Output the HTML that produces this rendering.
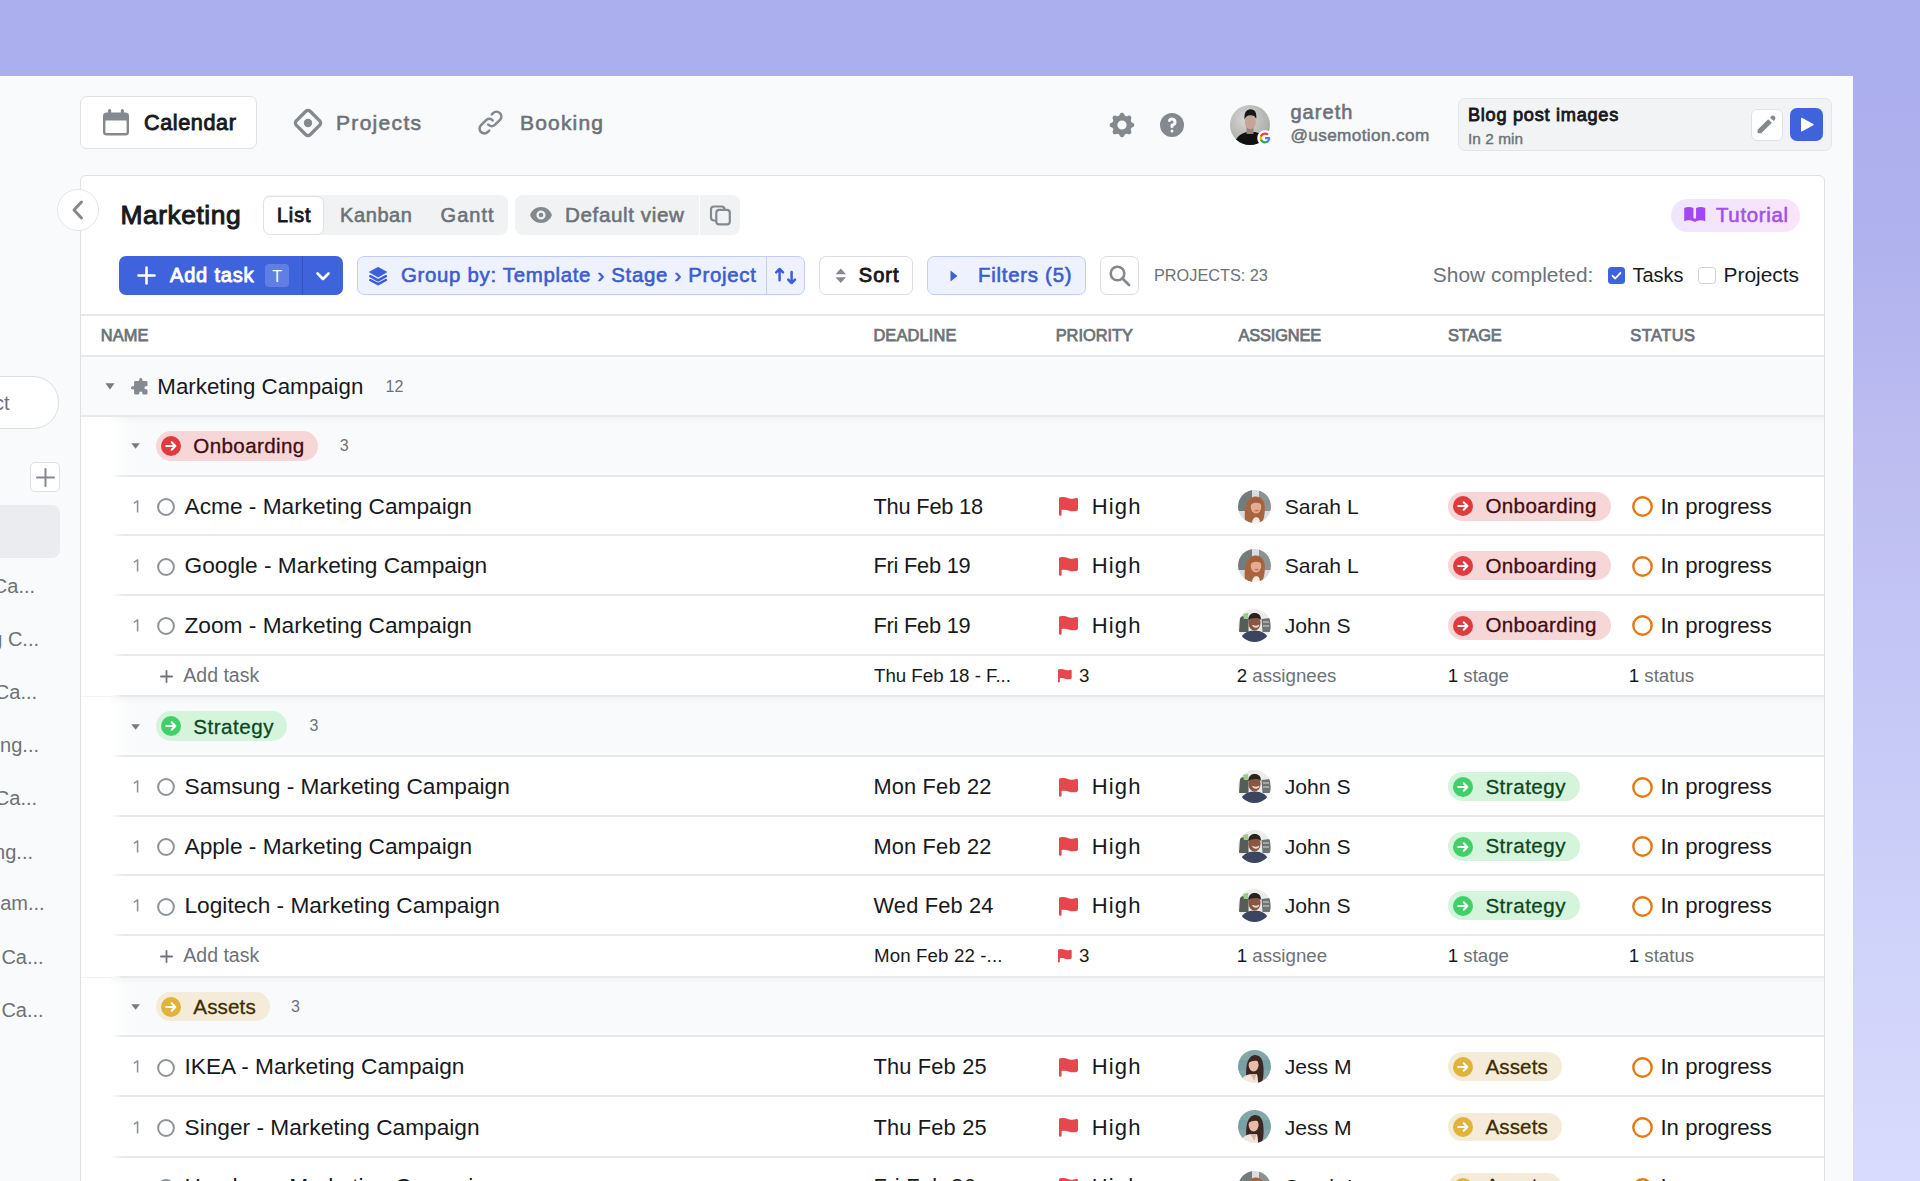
<!DOCTYPE html>
<html><head><meta charset="utf-8"><style>
*{margin:0;padding:0;box-sizing:border-box}
html,body{width:1920px;height:1181px;overflow:hidden}
body{position:relative;font-family:"Liberation Sans",sans-serif;background:linear-gradient(180deg,#AAAEEC 0px,#B0B2EE 250px,#BDBDF1 450px,#C2C4F4 600px,#C9CCF7 800px,#D2D5FA 1000px,#D8DBFC 1181px)}
.a{position:absolute}
.t{position:absolute;white-space:nowrap;line-height:1}
svg{overflow:visible}
</style></head><body>
<div class="a" style="left:0px;top:76px;width:1853px;height:1120px;background:#F9FAFC"></div>
<div class="a" style="left:-120px;top:376px;width:179px;height:52.6px;background:#fff;border:1px solid #DCDEE2;border-radius:26px"></div>
<div class="t" style="left:-17.20px;top:393.00px;font-size:20px;color:#6D7278;">ect</div>
<div class="a" style="left:30px;top:462px;width:29.5px;height:29.5px;background:#fff;border:1px solid #DFE1E5;border-radius:5px"></div>
<svg class="a" style="left:35.5px;top:467.5px;" width="19" height="19" viewBox="0 0 19 19"><path d="M9.5 1v17M1 9.5h17" stroke="#84898F" stroke-width="2" stroke-linecap="round"/></svg>
<div class="a" style="left:-20px;top:505px;width:79.6px;height:53.3px;background:#EBECEF;border-radius:8px"></div>
<div class="t" style="left:-7.20px;top:576.00px;font-size:20px;color:#6D7278;">Ca...</div>
<div class="t" style="left:-8.80px;top:629.00px;font-size:20px;color:#6D7278;">g C...</div>
<div class="t" style="left:-5.20px;top:682.00px;font-size:20px;color:#6D7278;">Ca...</div>
<div class="t" style="left:0.10px;top:735.00px;font-size:20px;color:#6D7278;">ng...</div>
<div class="t" style="left:-5.20px;top:788.00px;font-size:20px;color:#6D7278;">Ca...</div>
<div class="t" style="left:-5.90px;top:841.50px;font-size:20px;color:#6D7278;">ng...</div>
<div class="t" style="left:0.20px;top:893.30px;font-size:20px;color:#6D7278;">am...</div>
<div class="t" style="left:1.40px;top:947.00px;font-size:20px;color:#6D7278;">Ca...</div>
<div class="t" style="left:1.40px;top:1000.00px;font-size:20px;color:#6D7278;">Ca...</div>
<div class="a" style="left:80px;top:96px;width:177px;height:53px;background:#fff;border:1px solid #DFE1E5;border-radius:7px"></div>
<svg class="a" style="left:103px;top:109px;" width="26" height="26" viewBox="0 0 26 26"><rect x="0" y="3.5" width="26" height="23" rx="3.5" fill="#84898F"/><rect x="2.4" y="11.6" width="21.2" height="12.4" rx="1" fill="#fff"/><rect x="5" y="0" width="3.2" height="6" rx="1.6" fill="#84898F"/><rect x="17.8" y="0" width="3.2" height="6" rx="1.6" fill="#84898F"/></svg>
<div class="t" style="left:144.00px;top:112.00px;font-size:21.6px;color:#17191C;letter-spacing:0.615px;-webkit-text-stroke:0.9px #17191C;">Calendar</div>
<svg class="a" style="left:292.5px;top:107.5px;" width="30" height="30" viewBox="0 0 30 30"><rect x="5.2" y="5.2" width="19.6" height="19.6" rx="3" transform="rotate(45 15 15)" fill="none" stroke="#84898F" stroke-width="3.3"/><circle cx="15" cy="15" r="4.2" fill="#84898F"/></svg>
<div class="t" style="left:336.00px;top:112.00px;font-size:21px;color:#6D7278;letter-spacing:1.313px;-webkit-text-stroke:0.6px #6D7278;">Projects</div>
<svg class="a" style="left:476px;top:108px;" width="29" height="29" viewBox="0 0 24 24"><path d="M13.828 10.172a4 4 0 00-5.656 0l-4 4a4 4 0 105.656 5.656l1.102-1.101m-.758-4.899a4 4 0 005.656 0l4-4a4 4 0 00-5.656-5.656l-1.1 1.1" fill="none" stroke="#84898F" stroke-width="2.1" stroke-linecap="round" stroke-linejoin="round"/></svg>
<div class="t" style="left:520.00px;top:112.00px;font-size:21px;color:#6D7278;letter-spacing:1.181px;-webkit-text-stroke:0.6px #6D7278;">Booking</div>
<svg class="a" style="left:1110px;top:113px;" width="24" height="24" viewBox="2.2 2.2 15.6 15.6"><path fill-rule="evenodd" fill="#84898F" d="M11.49 3.17c-.38-1.56-2.6-1.56-2.98 0a1.532 1.532 0 01-2.286.948c-1.372-.836-2.942.734-2.106 2.106.54.886.061 2.042-.947 2.287-1.561.379-1.561 2.6 0 2.978a1.532 1.532 0 01.947 2.287c-.836 1.372.734 2.942 2.106 2.106a1.532 1.532 0 012.287.947c.379 1.561 2.6 1.561 2.978 0a1.533 1.533 0 012.287-.947c1.372.836 2.942-.734 2.106-2.106a1.533 1.533 0 01.947-2.287c1.561-.379 1.561-2.6 0-2.978a1.532 1.532 0 01-.947-2.287c.836-1.372-.734-2.942-2.106-2.106a1.532 1.532 0 01-2.287-.947zM10 13a3 3 0 100-6 3 3 0 000 6z"/></svg>
<svg class="a" style="left:1160px;top:113px;" width="24" height="24" viewBox="2 2 16 16"><path fill-rule="evenodd" fill="#84898F" d="M18 10a8 8 0 11-16 0 8 8 0 0116 0zm-8-3a1 1 0 00-.867.5 1 1 0 11-1.731-1A3 3 0 0113 8a3.001 3.001 0 01-2 2.83V11a1 1 0 11-2 0v-1a1 1 0 011-1 1 1 0 100-2zm0 8a1 1 0 100-2 1 1 0 000 2z"/></svg>
<svg class="a" style="left:1230px;top:105px;" width="40" height="40" viewBox="0 0 40 40"><defs><clipPath id="cg"><circle cx="20" cy="20" r="20"/></clipPath><radialGradient id="gbg" cx="0.4" cy="0.35" r="0.8"><stop offset="0" stop-color="#D9D9D7"/><stop offset="1" stop-color="#9E9E9C"/></radialGradient></defs>
<g clip-path="url(#cg)"><rect width="40" height="40" fill="url(#gbg)"/>
<path d="M4 40 C6 31 12 28 17 27 L25 27 C30 28 35 31 37 40 Z" fill="#101010"/>
<rect x="16.5" y="22" width="7" height="7" fill="#9C8477"/>
<ellipse cx="20.3" cy="16.8" rx="5.5" ry="7.4" fill="#C4A597"/>
<path d="M14.6 14.5 C13.8 7.5 16.5 4.2 20.5 4.2 C25 4.4 27 7.5 26.2 14 C25 10.5 22 10.2 20 10.2 C17.5 10.2 16 11.2 14.6 14.5Z" fill="#181818"/></g></svg>
<svg class="a" style="left:1256.5px;top:130px;" width="16" height="16" viewBox="0 0 16 16"><circle cx="8" cy="8" r="7.8" fill="#fff"/>
<path d="M13.2 8.1c0-.4 0-.8-.1-1.2H8v2.3h2.9c-.1.7-.5 1.3-1.1 1.7v1.4h1.8c1-1 1.6-2.4 1.6-4.2z" fill="#4285F4"/>
<path d="M8 13.4c1.5 0 2.7-.5 3.6-1.3l-1.8-1.4c-.5.3-1.1.5-1.8.5-1.4 0-2.6-1-3-2.2H3.1v1.4C4 12.200 5.900 13.4 8 13.4z" fill="#34A853"/>
<path d="M5 9c-.1-.3-.2-.7-.2-1s.1-.7.2-1V5.6H3.1C2.8 6.3 2.6 7.1 2.6 8s.2 1.700.5 2.4L5 9z" fill="#FBBC05"/>
<path d="M8 4.7c.8 0 1.5.3 2.100.8l1.5-1.5C10.700 3.200 9.500 2.600 8 2.600 5.900 2.600 4 3.800 3.100 5.600L5 7c.4-1.300 1.600-2.300 3-2.300z" fill="#EA4335"/></svg>
<div class="t" style="left:1290.40px;top:101.80px;font-size:20px;color:#6D7278;letter-spacing:1.060px;-webkit-text-stroke:0.6px #6D7278;">gareth</div>
<div class="t" style="left:1290.40px;top:126.90px;font-size:17.2px;color:#6D7278;letter-spacing:0.379px;-webkit-text-stroke:0.5px #6D7278;">@usemotion.com</div>
<div class="a" style="left:1458px;top:98px;width:374px;height:53px;background:#F2F3F5;border:1px solid #E3E5E8;border-radius:7px"></div>
<div class="t" style="left:1468.00px;top:106.30px;font-size:18.2px;color:#17191C;letter-spacing:0.714px;-webkit-text-stroke:0.85px #17191C;">Blog post images</div>
<div class="t" style="left:1468.00px;top:131.00px;font-size:15.4px;color:#6D7278;letter-spacing:0.036px;-webkit-text-stroke:0.4px #6D7278;">In 2 min</div>
<div class="a" style="left:1750.5px;top:108.5px;width:32px;height:32px;background:#fff;border:1px solid #E0E2E6;border-radius:6px"></div>
<svg class="a" style="left:1757px;top:115px;" width="19" height="19" viewBox="2.5 2.5 15 15"><path fill="#84898F" d="M13.586 3.586a2 2 0 112.828 2.828l-.793.793-2.828-2.828.793-.793zM11.379 5.793L3 14.172V17h2.828l8.38-8.379-2.83-2.828z"/></svg>
<div class="a" style="left:1790px;top:108px;width:33px;height:33px;background:#3E63DD;border-radius:7px"></div>
<svg class="a" style="left:1799px;top:117px;" width="16" height="16" viewBox="0 0 16 16"><path d="M2 1.8 Q2 0.3 3.4 1 L14.2 6.9 Q15.4 7.6 14.2 8.3 L3.4 14.2 Q2 14.9 2 13.4Z" fill="#fff"/></svg>
<div class="a" style="left:80px;top:175px;width:1745px;height:1100px;background:#fff;border:1px solid #DEE0E4;border-radius:6px"></div>
<div class="a" style="left:57px;top:189px;width:42px;height:42px;background:#fff;border:1px solid #E3E5E8;border-radius:50%"></div>
<svg class="a" style="left:70px;top:200px;" width="16" height="20" viewBox="0 0 16 20"><path d="M11.5 2 L4 10 L11.5 18" fill="none" stroke="#84898F" stroke-width="3" stroke-linecap="round" stroke-linejoin="round"/></svg>
<div class="t" style="left:120.60px;top:202.40px;font-size:26.4px;color:#17191C;letter-spacing:0.513px;-webkit-text-stroke:1.0px #17191C;">Marketing</div>
<div class="a" style="left:263px;top:195px;width:245px;height:40px;background:#F1F2F4;border-radius:8px"></div>
<div class="a" style="left:263px;top:196px;width:61px;height:39px;background:#fff;border:1px solid #DFE1E5;border-radius:7px"></div>
<div class="t" style="left:277.00px;top:206.00px;font-size:19.6px;color:#17191C;letter-spacing:0.974px;-webkit-text-stroke:0.9px #17191C;">List</div>
<div class="t" style="left:340.00px;top:205.00px;font-size:20px;color:#6D7278;letter-spacing:0.600px;-webkit-text-stroke:0.6px #6D7278;">Kanban</div>
<div class="t" style="left:440.60px;top:205.00px;font-size:20px;color:#6D7278;letter-spacing:1.025px;-webkit-text-stroke:0.6px #6D7278;">Gantt</div>
<div class="a" style="left:515px;top:195px;width:225px;height:40px;background:#F1F2F4;border-radius:8px"></div>
<div class="a" style="left:698.5px;top:195px;width:1.5px;height:40px;background:#fff"></div>
<svg class="a" style="left:530px;top:207px;" width="22" height="16" viewBox="0.4 3 19.2 14"><path fill="#84898F" d="M10 12a2 2 0 100-4 2 2 0 000 4z"/><path fill="#84898F" fill-rule="evenodd" d="M.458 10C1.732 5.943 5.522 3 10 3s8.268 2.943 9.542 7c-1.274 4.057-5.064 7-9.542 7S1.732 14.057.458 10zM14 10a4 4 0 11-8 0 4 4 0 018 0z"/></svg>
<div class="t" style="left:565.00px;top:205.00px;font-size:20.6px;color:#6D7278;letter-spacing:0.612px;-webkit-text-stroke:0.6px #6D7278;">Default view</div>
<svg class="a" style="left:709px;top:205px;" width="22" height="21" viewBox="0 0 22 21"><rect x="2" y="1.5" width="13.5" height="14" rx="3" fill="none" stroke="#84898F" stroke-width="2.2"/><rect x="7.3" y="4.8" width="13.5" height="14.6" rx="3" fill="#F1F2F4" stroke="#84898F" stroke-width="2.2"/></svg>
<div class="a" style="left:1671px;top:199px;width:129px;height:33px;background:linear-gradient(90deg,#EFE6FC,#F9E4F8);border-radius:17px"></div>
<svg class="a" style="left:1683.5px;top:207px;" width="21.5" height="15" viewBox="2 4 16 11.4"><path fill="#A347F5" d="M9 4.804A7.968 7.968 0 005.5 4c-1.255 0-2.443.29-3.5.804v10A7.969 7.969 0 015.5 14c1.669 0 3.218.51 4.5 1.385A7.962 7.962 0 0114.5 14c1.255 0 2.443.29 3.5.804v-10A7.968 7.968 0 0014.5 4c-1.255 0-2.443.29-3.5.804V12a1 1 0 11-2 0V4.804z"/></svg>
<div class="t" style="left:1716.00px;top:205.00px;font-size:20.4px;color:#A251E6;letter-spacing:0.669px;-webkit-text-stroke:0.6px #A251E6;">Tutorial</div>
<div class="a" style="left:119px;top:255.6px;width:224px;height:39.8px;background:#3E63DD;border-radius:7px"></div>
<svg class="a" style="left:136.5px;top:265.5px;" width="19" height="19" viewBox="0 0 19 19"><path d="M9.5 1.5v16M1.5 9.5h16" stroke="#fff" stroke-width="2.6" stroke-linecap="round"/></svg>
<div class="t" style="left:170.00px;top:265.00px;font-size:20px;color:#fff;letter-spacing:0.814px;-webkit-text-stroke:0.9px #fff;">Add task</div>
<div class="a" style="left:265px;top:264px;width:24px;height:23px;background:rgba(255,255,255,0.18);border-radius:4px"></div>
<div class="t" style="left:272.30px;top:269.00px;font-size:16px;color:#fff;">T</div>
<div class="a" style="left:302px;top:256px;width:1.2px;height:39px;background:rgba(20,30,90,0.25)"></div>
<svg class="a" style="left:316px;top:272px;" width="14" height="9" viewBox="0 0 14 9"><path d="M1.5 1.5 L7 7 L12.5 1.5" fill="none" stroke="#fff" stroke-width="2.6" stroke-linecap="round" stroke-linejoin="round"/></svg>
<div class="a" style="left:357px;top:256px;width:448px;height:39px;background:#EEF2FE;border:1px solid #C3CEF6;border-radius:7px"></div>
<svg class="a" style="left:369px;top:266.5px;" width="18.2" height="18.5" viewBox="0 0 18.2 18.5"><path d="M9.1 0.2 L18 5.1 L9.1 10.2 L0.2 5.1Z" fill="#3B5EDB" stroke="#3B5EDB" stroke-width="0.6" stroke-linejoin="round"/><path d="M1.3 9.2 L9.1 13.4 L16.9 9.2" fill="none" stroke="#3B5EDB" stroke-width="2.5" stroke-linejoin="round" stroke-linecap="round"/><path d="M1.3 13 L9.1 17.2 L16.9 13" fill="none" stroke="#3B5EDB" stroke-width="2.5" stroke-linejoin="round" stroke-linecap="round"/></svg>
<div class="t" style="left:401.00px;top:265.00px;font-size:20.4px;color:#3D5CCF;letter-spacing:0.695px;-webkit-text-stroke:0.6px #3D5CCF;">Group by: Template › Stage › Project</div>
<div class="a" style="left:766px;top:257px;width:1px;height:37px;background:#C3CEF6"></div>
<svg class="a" style="left:774.5px;top:267px;" width="22" height="18" viewBox="0 0 22 18"><path d="M4.6 13.2 V2 M1.2 5.4 L4.6 2 L8 5.4" fill="none" stroke="#3B5EDB" stroke-width="2.5" stroke-linecap="round" stroke-linejoin="round"/><path d="M16.6 5 V16 M13.2 12.6 L16.6 16 L20 12.6" fill="none" stroke="#3B5EDB" stroke-width="2.5" stroke-linecap="round" stroke-linejoin="round"/></svg>
<div class="a" style="left:819px;top:256px;width:94px;height:39px;background:#fff;border:1px solid #DADDE1;border-radius:7px"></div>
<svg class="a" style="left:834.5px;top:267.5px;" width="11.5" height="15.5" viewBox="0 0 11.5 15.5"><path d="M5.75 0.5 L11 6.3 H0.5Z M5.75 15 L11 9.2 H0.5Z" fill="#84898F"/></svg>
<div class="t" style="left:858.80px;top:265.00px;font-size:20px;color:#17191C;letter-spacing:1.033px;-webkit-text-stroke:0.9px #17191C;">Sort</div>
<div class="a" style="left:927px;top:256px;width:159px;height:39px;background:#EEF2FE;border:1px solid #C3CEF6;border-radius:7px"></div>
<svg class="a" style="left:950px;top:269.5px;" width="8" height="12" viewBox="0 0 8 12"><path d="M0.5 0.5 L7.5 6 L0.5 11.5Z" fill="#3F5FD5"/></svg>
<div class="t" style="left:978.00px;top:265.00px;font-size:20.4px;color:#3D5CCF;letter-spacing:0.741px;-webkit-text-stroke:0.6px #3D5CCF;">Filters (5)</div>
<div class="a" style="left:1100px;top:256px;width:39px;height:39px;background:#fff;border:1px solid #DADDE1;border-radius:7px"></div>
<svg class="a" style="left:1108px;top:264px;" width="24" height="24" viewBox="0 0 24 24"><circle cx="9.5" cy="9.5" r="6.8" fill="none" stroke="#84898F" stroke-width="2.6"/><path d="M14.5 14.5 L21 21" stroke="#84898F" stroke-width="2.8" stroke-linecap="round"/></svg>
<div class="t" style="left:1154.00px;top:266.70px;font-size:16.3px;color:#6D7278;letter-spacing:-0.009px;">PROJECTS: 23</div>
<div class="t" style="left:1432.80px;top:265.00px;font-size:20.9px;color:#6D7278;letter-spacing:0.021px;">Show completed:</div>
<div class="a" style="left:1608px;top:267px;width:17px;height:17px;background:#3E63DD;border-radius:3.5px"></div>
<svg class="a" style="left:1608px;top:267px;" width="17" height="17" viewBox="0 0 17 17"><path d="M4.5 8.8 L7.3 11.5 L12.5 5.8" fill="none" stroke="#fff" stroke-width="1.8" stroke-linecap="round" stroke-linejoin="round"/></svg>
<div class="t" style="left:1632.50px;top:266.00px;font-size:19.9px;color:#17191C;letter-spacing:0.039px;">Tasks</div>
<div class="a" style="left:1698px;top:267px;width:17.5px;height:17px;background:#fff;border:1.5px solid #CED2D7;border-radius:3.5px"></div>
<div class="t" style="left:1723.60px;top:265.00px;font-size:20.9px;color:#17191C;letter-spacing:-0.007px;">Projects</div>
<div class="a" style="left:81px;top:314px;width:1743px;height:2px;background:#E7E9EB;"></div>
<div class="t" style="left:100.80px;top:327.00px;font-size:16.4px;color:#6D7278;letter-spacing:0.101px;-webkit-text-stroke:0.75px #6D7278;">NAME</div>
<div class="t" style="left:873.40px;top:327.00px;font-size:16.4px;color:#6D7278;letter-spacing:0.143px;-webkit-text-stroke:0.75px #6D7278;">DEADLINE</div>
<div class="t" style="left:1055.70px;top:327.00px;font-size:16.4px;color:#6D7278;letter-spacing:-0.027px;-webkit-text-stroke:0.75px #6D7278;">PRIORITY</div>
<div class="t" style="left:1238.40px;top:327.00px;font-size:16.4px;color:#6D7278;letter-spacing:-0.127px;-webkit-text-stroke:0.75px #6D7278;">ASSIGNEE</div>
<div class="t" style="left:1448.00px;top:327.00px;font-size:16.4px;color:#6D7278;letter-spacing:-0.166px;-webkit-text-stroke:0.75px #6D7278;">STAGE</div>
<div class="t" style="left:1630.30px;top:327.00px;font-size:16.4px;color:#6D7278;letter-spacing:0.492px;-webkit-text-stroke:0.75px #6D7278;">STATUS</div>
<div class="a" style="left:81px;top:355px;width:1743px;height:2px;background:#E7E9EB;"></div>
<div class="a" style="left:81px;top:357px;width:1743px;height:58px;background:#F9FAFB"></div>
<svg class="a" style="left:104.6px;top:383px;" width="10" height="7" viewBox="0 0 10 7"><path d="M0.4 0.3 H9.6 L5 6.6Z" fill="#777C82"/></svg>
<svg class="a" style="left:130.8px;top:377.6px;" width="16.5" height="16.5" viewBox="2 2 16 16"><path fill="#858A91" d="M10 3.5a1.5 1.5 0 013 0V4a1 1 0 001 1h3a1 1 0 011 1v3a1 1 0 01-1 1h-.5a1.5 1.5 0 000 3h.5a1 1 0 011 1v3a1 1 0 01-1 1h-3a1 1 0 01-1-1v-.5a1.5 1.5 0 00-3 0v.5a1 1 0 01-1 1H6a1 1 0 01-1-1v-3a1 1 0 00-1-1h-.5a1.5 1.5 0 010-3H4a1 1 0 001-1V6a1 1 0 011-1h3a1 1 0 001-1v-.5z"/></svg>
<div class="t" style="left:157.30px;top:376.10px;font-size:22.3px;color:#17191C;letter-spacing:0.017px;">Marketing Campaign</div>
<div class="t" style="left:385.60px;top:378.70px;font-size:16px;color:#6D7278;">12</div>
<div class="a" style="left:111px;top:417px;width:1713px;height:58.5px;background:linear-gradient(90deg,rgba(249,250,251,0) 0px,#F9FAFB 21px);box-shadow:inset 0 8px 8px -8px rgba(0,0,0,0.06)"></div>
<svg class="a" style="left:130.9px;top:443.3px;" width="9.2" height="6" viewBox="0 0 9.2 6"><path d="M0.3 0.3 H8.9 L4.6 5.8Z" fill="#777C82"/></svg>
<div class="a" style="left:156.3px;top:431.0px;width:162.0px;height:29.5px;background:#F7D6D7;border-radius:15px"></div>
<svg class="a" style="left:160.7px;top:435.7px;" width="20" height="20" viewBox="0 0 20 20"><circle cx="10" cy="10" r="10" fill="#E03A3E"/><path d="M5.2 10 H14.4 M10.7 6.3 L14.4 10 L10.7 13.7" fill="none" stroke="#fff" stroke-width="2" stroke-linecap="round" stroke-linejoin="round"/></svg>
<div class="t" style="left:193.30px;top:436.30px;font-size:20.6px;color:#420C0F;letter-spacing:0.374px;-webkit-text-stroke:0.3px #420C0F;">Onboarding</div>
<div class="t" style="left:339.80px;top:438.00px;font-size:16px;color:#6D7278;">3</div>
<div class="a" style="left:111px;top:475px;width:1713px;height:2px;background:#E7E9EB;background:linear-gradient(90deg,rgba(231,233,235,0),#E7E9EB 12px);"></div>
<svg class="a" style="left:132.5px;top:499.8px;" width="7" height="13" viewBox="0 0 7 13"><path d="M0.9 3.4 L4.6 0.9 V12.4" fill="none" stroke="#8E9399" stroke-width="1.6" stroke-linejoin="round"/></svg>
<svg class="a" style="left:157px;top:498.0px;" width="18" height="18" viewBox="0 0 18 18"><circle cx="9" cy="9" r="7.9" fill="none" stroke="#8E9398" stroke-width="2"/></svg>
<div class="t" style="left:184.50px;top:494.80px;font-size:22.7px;color:#17191C;">Acme - Marketing Campaign</div>
<div class="t" style="left:873.50px;top:495.80px;font-size:21.8px;color:#17191C;letter-spacing:-0.201px;">Thu Feb 18</div>
<svg class="a" style="left:1059px;top:497.1px;" width="19.0" height="19.0" viewBox="0 0 19 19"><path d="M0 1.6 Q0 0.2 1.6 0.3 C4.5 -0.2 7 0.3 9.5 1.2 C12 2.1 14.5 2 17.3 1.1 Q19 0.7 19 2.4 L19 12.2 Q19 13.6 17.5 13.9 C14.5 14.7 12 14.4 9.5 13.4 C7.2 12.6 4.8 12.4 2.6 13 L2.6 17.4 Q2.6 18.7 1.3 18.7 Q0 18.7 0 17.4Z" fill="#E5474D"/></svg>
<div class="t" style="left:1091.70px;top:495.80px;font-size:22px;color:#17191C;letter-spacing:1.197px;">High</div>
<svg class="a" style="left:1237.5px;top:489.5px;" width="33" height="33" viewBox="0 0 33 33"><defs><clipPath id="c105"><circle cx="16.5" cy="16.5" r="16.5"/></clipPath><filter id="fc105" x="-5%" y="-5%" width="110%" height="110%"><feGaussianBlur stdDeviation="0.45"/></filter></defs><g clip-path="url(#c105)"><g filter="url(#fc105)"><rect width="33" height="33" fill="#DADBDF"/>
<path d="M0 0 H33 V21 H0Z" fill="#737C7C"/><path d="M20 0 H33 V21 H24Z" fill="#8D9392"/><rect x="14" y="0" width="7" height="8" fill="#D9DDE2"/>
<path d="M7 31 C6 20 7.5 8 16.5 6.5 C25 6 27.5 13 26.8 21 C26.5 26 25.5 30 24 33 L9 33Z" fill="#A8653D"/>
<ellipse cx="18" cy="16.8" rx="5.3" ry="6.6" fill="#E3AC93"/>
<path d="M11.8 15 C12 9.5 15 8.2 18.5 8.2 C22 8.3 24 11 24 15 C22 12.5 16.5 11.8 11.8 15Z" fill="#A35F38"/>
<ellipse cx="18.6" cy="20.6" rx="2.2" ry="0.9" fill="#C96E6E"/>
<path d="M14 33 C14.5 28.5 16.5 27.3 18.5 27.3 C20.5 27.3 21.8 29 22 33Z" fill="#F5ECEA"/></g></g></svg>
<div class="t" style="left:1284.80px;top:495.80px;font-size:21.1px;color:#17191C;">Sarah L</div>
<div class="a" style="left:1448.3px;top:491.8px;width:162.4000000000001px;height:28.9px;background:#F7D6D7;border-radius:15px"></div>
<svg class="a" style="left:1453px;top:496.40000000000003px;" width="20" height="20" viewBox="0 0 20 20"><circle cx="10" cy="10" r="10" fill="#E03A3E"/><path d="M5.2 10 H14.4 M10.7 6.3 L14.4 10 L10.7 13.7" fill="none" stroke="#fff" stroke-width="2" stroke-linecap="round" stroke-linejoin="round"/></svg>
<div class="t" style="left:1485.40px;top:496.10px;font-size:20.6px;color:#420C0F;letter-spacing:0.374px;-webkit-text-stroke:0.3px #420C0F;">Onboarding</div>
<svg class="a" style="left:1632px;top:496.20000000000005px;" width="21" height="21" viewBox="0 0 21 21"><circle cx="10.5" cy="10.5" r="9.2" fill="none" stroke="#E8770E" stroke-width="2.4"/></svg>
<div class="t" style="left:1660.40px;top:495.80px;font-size:22.2px;color:#17191C;letter-spacing:0.039px;">In progress</div>
<div class="a" style="left:111px;top:534px;width:1713px;height:2px;background:#E7E9EB;background:linear-gradient(90deg,rgba(231,233,235,0),#E7E9EB 12px);"></div>
<svg class="a" style="left:132.5px;top:559.4000000000001px;" width="7" height="13" viewBox="0 0 7 13"><path d="M0.9 3.4 L4.6 0.9 V12.4" fill="none" stroke="#8E9399" stroke-width="1.6" stroke-linejoin="round"/></svg>
<svg class="a" style="left:157px;top:557.6px;" width="18" height="18" viewBox="0 0 18 18"><circle cx="9" cy="9" r="7.9" fill="none" stroke="#8E9398" stroke-width="2"/></svg>
<div class="t" style="left:184.50px;top:554.40px;font-size:22.7px;color:#17191C;">Google - Marketing Campaign</div>
<div class="t" style="left:873.50px;top:555.40px;font-size:21.8px;color:#17191C;letter-spacing:-0.233px;">Fri Feb 19</div>
<svg class="a" style="left:1059px;top:556.7px;" width="19.0" height="19.0" viewBox="0 0 19 19"><path d="M0 1.6 Q0 0.2 1.6 0.3 C4.5 -0.2 7 0.3 9.5 1.2 C12 2.1 14.5 2 17.3 1.1 Q19 0.7 19 2.4 L19 12.2 Q19 13.6 17.5 13.9 C14.5 14.7 12 14.4 9.5 13.4 C7.2 12.6 4.8 12.4 2.6 13 L2.6 17.4 Q2.6 18.7 1.3 18.7 Q0 18.7 0 17.4Z" fill="#E5474D"/></svg>
<div class="t" style="left:1091.70px;top:555.40px;font-size:22px;color:#17191C;letter-spacing:1.197px;">High</div>
<svg class="a" style="left:1237.5px;top:549.1px;" width="33" height="33" viewBox="0 0 33 33"><defs><clipPath id="c119"><circle cx="16.5" cy="16.5" r="16.5"/></clipPath><filter id="fc119" x="-5%" y="-5%" width="110%" height="110%"><feGaussianBlur stdDeviation="0.45"/></filter></defs><g clip-path="url(#c119)"><g filter="url(#fc119)"><rect width="33" height="33" fill="#DADBDF"/>
<path d="M0 0 H33 V21 H0Z" fill="#737C7C"/><path d="M20 0 H33 V21 H24Z" fill="#8D9392"/><rect x="14" y="0" width="7" height="8" fill="#D9DDE2"/>
<path d="M7 31 C6 20 7.5 8 16.5 6.5 C25 6 27.5 13 26.8 21 C26.5 26 25.5 30 24 33 L9 33Z" fill="#A8653D"/>
<ellipse cx="18" cy="16.8" rx="5.3" ry="6.6" fill="#E3AC93"/>
<path d="M11.8 15 C12 9.5 15 8.2 18.5 8.2 C22 8.3 24 11 24 15 C22 12.5 16.5 11.8 11.8 15Z" fill="#A35F38"/>
<ellipse cx="18.6" cy="20.6" rx="2.2" ry="0.9" fill="#C96E6E"/>
<path d="M14 33 C14.5 28.5 16.5 27.3 18.5 27.3 C20.5 27.3 21.8 29 22 33Z" fill="#F5ECEA"/></g></g></svg>
<div class="t" style="left:1284.80px;top:555.40px;font-size:21.1px;color:#17191C;">Sarah L</div>
<div class="a" style="left:1448.3px;top:551.4000000000001px;width:162.4000000000001px;height:28.9px;background:#F7D6D7;border-radius:15px"></div>
<svg class="a" style="left:1453px;top:556.0px;" width="20" height="20" viewBox="0 0 20 20"><circle cx="10" cy="10" r="10" fill="#E03A3E"/><path d="M5.2 10 H14.4 M10.7 6.3 L14.4 10 L10.7 13.7" fill="none" stroke="#fff" stroke-width="2" stroke-linecap="round" stroke-linejoin="round"/></svg>
<div class="t" style="left:1485.40px;top:555.70px;font-size:20.6px;color:#420C0F;letter-spacing:0.374px;-webkit-text-stroke:0.3px #420C0F;">Onboarding</div>
<svg class="a" style="left:1632px;top:555.8000000000001px;" width="21" height="21" viewBox="0 0 21 21"><circle cx="10.5" cy="10.5" r="9.2" fill="none" stroke="#E8770E" stroke-width="2.4"/></svg>
<div class="t" style="left:1660.40px;top:555.40px;font-size:22.2px;color:#17191C;letter-spacing:0.039px;">In progress</div>
<div class="a" style="left:111px;top:594px;width:1713px;height:2px;background:#E7E9EB;background:linear-gradient(90deg,rgba(231,233,235,0),#E7E9EB 12px);"></div>
<svg class="a" style="left:132.5px;top:619.0px;" width="7" height="13" viewBox="0 0 7 13"><path d="M0.9 3.4 L4.6 0.9 V12.4" fill="none" stroke="#8E9399" stroke-width="1.6" stroke-linejoin="round"/></svg>
<svg class="a" style="left:157px;top:617.1999999999999px;" width="18" height="18" viewBox="0 0 18 18"><circle cx="9" cy="9" r="7.9" fill="none" stroke="#8E9398" stroke-width="2"/></svg>
<div class="t" style="left:184.50px;top:614.00px;font-size:22.7px;color:#17191C;">Zoom - Marketing Campaign</div>
<div class="t" style="left:873.50px;top:615.00px;font-size:21.8px;color:#17191C;letter-spacing:-0.233px;">Fri Feb 19</div>
<svg class="a" style="left:1059px;top:616.3px;" width="19.0" height="19.0" viewBox="0 0 19 19"><path d="M0 1.6 Q0 0.2 1.6 0.3 C4.5 -0.2 7 0.3 9.5 1.2 C12 2.1 14.5 2 17.3 1.1 Q19 0.7 19 2.4 L19 12.2 Q19 13.6 17.5 13.9 C14.5 14.7 12 14.4 9.5 13.4 C7.2 12.6 4.8 12.4 2.6 13 L2.6 17.4 Q2.6 18.7 1.3 18.7 Q0 18.7 0 17.4Z" fill="#E5474D"/></svg>
<div class="t" style="left:1091.70px;top:615.00px;font-size:22px;color:#17191C;letter-spacing:1.197px;">High</div>
<svg class="a" style="left:1237.5px;top:608.6999999999999px;" width="33" height="33" viewBox="0 0 33 33"><defs><clipPath id="c133"><circle cx="16.5" cy="16.5" r="16.5"/></clipPath><filter id="fc133" x="-5%" y="-5%" width="110%" height="110%"><feGaussianBlur stdDeviation="0.45"/></filter></defs><g clip-path="url(#c133)"><g filter="url(#fc133)"><rect width="33" height="33" fill="#ECECEA"/>
<path d="M2 9 C4 6 8 7 10.5 11 L10.5 23 L1 23Z" fill="#575B59"/><path d="M5 5 L10 4 L10.5 10 L6 10Z" fill="#9CCB8C"/>
<path d="M23.5 10 L32 9 L33 23 L24.5 23Z" fill="#6E7273"/><path d="M25 13 H31 M25 17 H31" stroke="#D8D9D9" stroke-width="1.2"/>
<path d="M1 33 C3 24.5 10 21.5 16.5 21.5 C23 21.5 30 24.5 32 33Z" fill="#3A455E"/>
<ellipse cx="16.5" cy="13.8" rx="6.1" ry="7.6" fill="#8A583F"/>
<path d="M10.2 11.5 C10.5 5.5 13.5 4 16.8 4 C20.5 4 23 6 23 11 C20.5 8.3 13.5 8.5 10.2 11.5Z" fill="#2B2421"/>
<path d="M14.5 16.6 Q18 20.2 21.2 16.4 Q18 18 14.5 16.6Z" fill="#F3ECE8" stroke="#F3ECE8" stroke-width="0.8"/></g></g></svg>
<div class="t" style="left:1284.80px;top:615.00px;font-size:21.1px;color:#17191C;">John S</div>
<div class="a" style="left:1448.3px;top:611.0px;width:162.4000000000001px;height:28.9px;background:#F7D6D7;border-radius:15px"></div>
<svg class="a" style="left:1453px;top:615.5999999999999px;" width="20" height="20" viewBox="0 0 20 20"><circle cx="10" cy="10" r="10" fill="#E03A3E"/><path d="M5.2 10 H14.4 M10.7 6.3 L14.4 10 L10.7 13.7" fill="none" stroke="#fff" stroke-width="2" stroke-linecap="round" stroke-linejoin="round"/></svg>
<div class="t" style="left:1485.40px;top:615.30px;font-size:20.6px;color:#420C0F;letter-spacing:0.374px;-webkit-text-stroke:0.3px #420C0F;">Onboarding</div>
<svg class="a" style="left:1632px;top:615.4px;" width="21" height="21" viewBox="0 0 21 21"><circle cx="10.5" cy="10.5" r="9.2" fill="none" stroke="#E8770E" stroke-width="2.4"/></svg>
<div class="t" style="left:1660.40px;top:615.00px;font-size:22.2px;color:#17191C;letter-spacing:0.039px;">In progress</div>
<div class="a" style="left:111px;top:654px;width:1713px;height:2px;background:#E7E9EB;background:linear-gradient(90deg,rgba(231,233,235,0),#E7E9EB 12px);"></div>
<svg class="a" style="left:159.5px;top:669.5px;" width="13" height="13" viewBox="0 0 13 13"><path d="M6.5 1v11M1 6.5h11" stroke="#6D7278" stroke-width="1.8" stroke-linecap="round"/></svg>
<div class="t" style="left:183.30px;top:666.00px;font-size:19.5px;color:#6D7278;letter-spacing:0.007px;">Add task</div>
<div class="t" style="left:874.00px;top:667.00px;font-size:18.7px;color:#17191C;letter-spacing:-0.010px;">Thu Feb 18 - F...</div>
<svg class="a" style="left:1058px;top:668.5px;" width="13.68" height="13.68" viewBox="0 0 19 19"><path d="M0 1.6 Q0 0.2 1.6 0.3 C4.5 -0.2 7 0.3 9.5 1.2 C12 2.1 14.5 2 17.3 1.1 Q19 0.7 19 2.4 L19 12.2 Q19 13.6 17.5 13.9 C14.5 14.7 12 14.4 9.5 13.4 C7.2 12.6 4.8 12.4 2.6 13 L2.6 17.4 Q2.6 18.7 1.3 18.7 Q0 18.7 0 17.4Z" fill="#E5474D"/></svg>
<div class="t" style="left:1079.00px;top:667.00px;font-size:18.7px;color:#17191C;">3</div>
<div class="t" style="left:1236.70px;top:667.00px;font-size:18.7px;color:#17191C">2<span style="color:#6D7278"> assignees</span></div>
<div class="t" style="left:1447.70px;top:667.00px;font-size:18.7px;color:#17191C">1<span style="color:#6D7278"> stage</span></div>
<div class="t" style="left:1628.70px;top:667.00px;font-size:18.7px;color:#17191C">1<span style="color:#6D7278"> status</span></div>
<div class="a" style="left:81px;top:696px;width:32px;height:1px;background:#F2F3F5"></div>
<div class="a" style="left:111px;top:695px;width:1713px;height:2px;background:#E7E9EB;background:linear-gradient(90deg,rgba(231,233,235,0),#E7E9EB 12px);"></div>
<div class="a" style="left:111px;top:697px;width:1713px;height:58.5px;background:linear-gradient(90deg,rgba(249,250,251,0) 0px,#F9FAFB 21px);box-shadow:inset 0 8px 8px -8px rgba(0,0,0,0.06)"></div>
<svg class="a" style="left:130.9px;top:723.7px;" width="9.2" height="6" viewBox="0 0 9.2 6"><path d="M0.3 0.3 H8.9 L4.6 5.8Z" fill="#777C82"/></svg>
<div class="a" style="left:156.3px;top:711.4px;width:131.2px;height:29.5px;background:#D4F4DC;border-radius:15px"></div>
<svg class="a" style="left:160.7px;top:716.1px;" width="20" height="20" viewBox="0 0 20 20"><circle cx="10" cy="10" r="10" fill="#40D06A"/><path d="M5.2 10 H14.4 M10.7 6.3 L14.4 10 L10.7 13.7" fill="none" stroke="#fff" stroke-width="2" stroke-linecap="round" stroke-linejoin="round"/></svg>
<div class="t" style="left:193.30px;top:716.70px;font-size:20.6px;color:#0E4622;letter-spacing:0.495px;-webkit-text-stroke:0.3px #0E4622;">Strategy</div>
<div class="t" style="left:309.40px;top:718.40px;font-size:16px;color:#6D7278;">3</div>
<div class="a" style="left:111px;top:755px;width:1713px;height:2px;background:#E7E9EB;background:linear-gradient(90deg,rgba(231,233,235,0),#E7E9EB 12px);"></div>
<svg class="a" style="left:132.5px;top:780.2px;" width="7" height="13" viewBox="0 0 7 13"><path d="M0.9 3.4 L4.6 0.9 V12.4" fill="none" stroke="#8E9399" stroke-width="1.6" stroke-linejoin="round"/></svg>
<svg class="a" style="left:157px;top:778.4px;" width="18" height="18" viewBox="0 0 18 18"><circle cx="9" cy="9" r="7.9" fill="none" stroke="#8E9398" stroke-width="2"/></svg>
<div class="t" style="left:184.50px;top:775.20px;font-size:22.7px;color:#17191C;">Samsung - Marketing Campaign</div>
<div class="t" style="left:873.50px;top:776.20px;font-size:21.8px;color:#17191C;letter-spacing:0.166px;">Mon Feb 22</div>
<svg class="a" style="left:1059px;top:777.5px;" width="19.0" height="19.0" viewBox="0 0 19 19"><path d="M0 1.6 Q0 0.2 1.6 0.3 C4.5 -0.2 7 0.3 9.5 1.2 C12 2.1 14.5 2 17.3 1.1 Q19 0.7 19 2.4 L19 12.2 Q19 13.6 17.5 13.9 C14.5 14.7 12 14.4 9.5 13.4 C7.2 12.6 4.8 12.4 2.6 13 L2.6 17.4 Q2.6 18.7 1.3 18.7 Q0 18.7 0 17.4Z" fill="#E5474D"/></svg>
<div class="t" style="left:1091.70px;top:776.20px;font-size:22px;color:#17191C;letter-spacing:1.197px;">High</div>
<svg class="a" style="left:1237.5px;top:769.9px;" width="33" height="33" viewBox="0 0 33 33"><defs><clipPath id="c164"><circle cx="16.5" cy="16.5" r="16.5"/></clipPath><filter id="fc164" x="-5%" y="-5%" width="110%" height="110%"><feGaussianBlur stdDeviation="0.45"/></filter></defs><g clip-path="url(#c164)"><g filter="url(#fc164)"><rect width="33" height="33" fill="#ECECEA"/>
<path d="M2 9 C4 6 8 7 10.5 11 L10.5 23 L1 23Z" fill="#575B59"/><path d="M5 5 L10 4 L10.5 10 L6 10Z" fill="#9CCB8C"/>
<path d="M23.5 10 L32 9 L33 23 L24.5 23Z" fill="#6E7273"/><path d="M25 13 H31 M25 17 H31" stroke="#D8D9D9" stroke-width="1.2"/>
<path d="M1 33 C3 24.5 10 21.5 16.5 21.5 C23 21.5 30 24.5 32 33Z" fill="#3A455E"/>
<ellipse cx="16.5" cy="13.8" rx="6.1" ry="7.6" fill="#8A583F"/>
<path d="M10.2 11.5 C10.5 5.5 13.5 4 16.8 4 C20.5 4 23 6 23 11 C20.5 8.3 13.5 8.5 10.2 11.5Z" fill="#2B2421"/>
<path d="M14.5 16.6 Q18 20.2 21.2 16.4 Q18 18 14.5 16.6Z" fill="#F3ECE8" stroke="#F3ECE8" stroke-width="0.8"/></g></g></svg>
<div class="t" style="left:1284.80px;top:776.20px;font-size:21.1px;color:#17191C;">John S</div>
<div class="a" style="left:1448.3px;top:772.2px;width:131.60000000000014px;height:28.9px;background:#D4F4DC;border-radius:15px"></div>
<svg class="a" style="left:1453px;top:776.8px;" width="20" height="20" viewBox="0 0 20 20"><circle cx="10" cy="10" r="10" fill="#40D06A"/><path d="M5.2 10 H14.4 M10.7 6.3 L14.4 10 L10.7 13.7" fill="none" stroke="#fff" stroke-width="2" stroke-linecap="round" stroke-linejoin="round"/></svg>
<div class="t" style="left:1485.40px;top:776.50px;font-size:20.6px;color:#0E4622;letter-spacing:0.495px;-webkit-text-stroke:0.3px #0E4622;">Strategy</div>
<svg class="a" style="left:1632px;top:776.6px;" width="21" height="21" viewBox="0 0 21 21"><circle cx="10.5" cy="10.5" r="9.2" fill="none" stroke="#E8770E" stroke-width="2.4"/></svg>
<div class="t" style="left:1660.40px;top:776.20px;font-size:22.2px;color:#17191C;letter-spacing:0.039px;">In progress</div>
<div class="a" style="left:111px;top:815px;width:1713px;height:2px;background:#E7E9EB;background:linear-gradient(90deg,rgba(231,233,235,0),#E7E9EB 12px);"></div>
<svg class="a" style="left:132.5px;top:839.9000000000001px;" width="7" height="13" viewBox="0 0 7 13"><path d="M0.9 3.4 L4.6 0.9 V12.4" fill="none" stroke="#8E9399" stroke-width="1.6" stroke-linejoin="round"/></svg>
<svg class="a" style="left:157px;top:838.1px;" width="18" height="18" viewBox="0 0 18 18"><circle cx="9" cy="9" r="7.9" fill="none" stroke="#8E9398" stroke-width="2"/></svg>
<div class="t" style="left:184.50px;top:834.90px;font-size:22.7px;color:#17191C;">Apple - Marketing Campaign</div>
<div class="t" style="left:873.50px;top:835.90px;font-size:21.8px;color:#17191C;letter-spacing:0.166px;">Mon Feb 22</div>
<svg class="a" style="left:1059px;top:837.2px;" width="19.0" height="19.0" viewBox="0 0 19 19"><path d="M0 1.6 Q0 0.2 1.6 0.3 C4.5 -0.2 7 0.3 9.5 1.2 C12 2.1 14.5 2 17.3 1.1 Q19 0.7 19 2.4 L19 12.2 Q19 13.6 17.5 13.9 C14.5 14.7 12 14.4 9.5 13.4 C7.2 12.6 4.8 12.4 2.6 13 L2.6 17.4 Q2.6 18.7 1.3 18.7 Q0 18.7 0 17.4Z" fill="#E5474D"/></svg>
<div class="t" style="left:1091.70px;top:835.90px;font-size:22px;color:#17191C;letter-spacing:1.197px;">High</div>
<svg class="a" style="left:1237.5px;top:829.6px;" width="33" height="33" viewBox="0 0 33 33"><defs><clipPath id="c178"><circle cx="16.5" cy="16.5" r="16.5"/></clipPath><filter id="fc178" x="-5%" y="-5%" width="110%" height="110%"><feGaussianBlur stdDeviation="0.45"/></filter></defs><g clip-path="url(#c178)"><g filter="url(#fc178)"><rect width="33" height="33" fill="#ECECEA"/>
<path d="M2 9 C4 6 8 7 10.5 11 L10.5 23 L1 23Z" fill="#575B59"/><path d="M5 5 L10 4 L10.5 10 L6 10Z" fill="#9CCB8C"/>
<path d="M23.5 10 L32 9 L33 23 L24.5 23Z" fill="#6E7273"/><path d="M25 13 H31 M25 17 H31" stroke="#D8D9D9" stroke-width="1.2"/>
<path d="M1 33 C3 24.5 10 21.5 16.5 21.5 C23 21.5 30 24.5 32 33Z" fill="#3A455E"/>
<ellipse cx="16.5" cy="13.8" rx="6.1" ry="7.6" fill="#8A583F"/>
<path d="M10.2 11.5 C10.5 5.5 13.5 4 16.8 4 C20.5 4 23 6 23 11 C20.5 8.3 13.5 8.5 10.2 11.5Z" fill="#2B2421"/>
<path d="M14.5 16.6 Q18 20.2 21.2 16.4 Q18 18 14.5 16.6Z" fill="#F3ECE8" stroke="#F3ECE8" stroke-width="0.8"/></g></g></svg>
<div class="t" style="left:1284.80px;top:835.90px;font-size:21.1px;color:#17191C;">John S</div>
<div class="a" style="left:1448.3px;top:831.9000000000001px;width:131.60000000000014px;height:28.9px;background:#D4F4DC;border-radius:15px"></div>
<svg class="a" style="left:1453px;top:836.5px;" width="20" height="20" viewBox="0 0 20 20"><circle cx="10" cy="10" r="10" fill="#40D06A"/><path d="M5.2 10 H14.4 M10.7 6.3 L14.4 10 L10.7 13.7" fill="none" stroke="#fff" stroke-width="2" stroke-linecap="round" stroke-linejoin="round"/></svg>
<div class="t" style="left:1485.40px;top:836.20px;font-size:20.6px;color:#0E4622;letter-spacing:0.495px;-webkit-text-stroke:0.3px #0E4622;">Strategy</div>
<svg class="a" style="left:1632px;top:836.3000000000001px;" width="21" height="21" viewBox="0 0 21 21"><circle cx="10.5" cy="10.5" r="9.2" fill="none" stroke="#E8770E" stroke-width="2.4"/></svg>
<div class="t" style="left:1660.40px;top:835.90px;font-size:22.2px;color:#17191C;letter-spacing:0.039px;">In progress</div>
<div class="a" style="left:111px;top:874px;width:1713px;height:2px;background:#E7E9EB;background:linear-gradient(90deg,rgba(231,233,235,0),#E7E9EB 12px);"></div>
<svg class="a" style="left:132.5px;top:899.4000000000001px;" width="7" height="13" viewBox="0 0 7 13"><path d="M0.9 3.4 L4.6 0.9 V12.4" fill="none" stroke="#8E9399" stroke-width="1.6" stroke-linejoin="round"/></svg>
<svg class="a" style="left:157px;top:897.6px;" width="18" height="18" viewBox="0 0 18 18"><circle cx="9" cy="9" r="7.9" fill="none" stroke="#8E9398" stroke-width="2"/></svg>
<div class="t" style="left:184.50px;top:894.40px;font-size:22.7px;color:#17191C;">Logitech - Marketing Campaign</div>
<div class="t" style="left:873.50px;top:895.40px;font-size:21.8px;color:#17191C;letter-spacing:0.181px;">Wed Feb 24</div>
<svg class="a" style="left:1059px;top:896.7px;" width="19.0" height="19.0" viewBox="0 0 19 19"><path d="M0 1.6 Q0 0.2 1.6 0.3 C4.5 -0.2 7 0.3 9.5 1.2 C12 2.1 14.5 2 17.3 1.1 Q19 0.7 19 2.4 L19 12.2 Q19 13.6 17.5 13.9 C14.5 14.7 12 14.4 9.5 13.4 C7.2 12.6 4.8 12.4 2.6 13 L2.6 17.4 Q2.6 18.7 1.3 18.7 Q0 18.7 0 17.4Z" fill="#E5474D"/></svg>
<div class="t" style="left:1091.70px;top:895.40px;font-size:22px;color:#17191C;letter-spacing:1.197px;">High</div>
<svg class="a" style="left:1237.5px;top:889.1px;" width="33" height="33" viewBox="0 0 33 33"><defs><clipPath id="c192"><circle cx="16.5" cy="16.5" r="16.5"/></clipPath><filter id="fc192" x="-5%" y="-5%" width="110%" height="110%"><feGaussianBlur stdDeviation="0.45"/></filter></defs><g clip-path="url(#c192)"><g filter="url(#fc192)"><rect width="33" height="33" fill="#ECECEA"/>
<path d="M2 9 C4 6 8 7 10.5 11 L10.5 23 L1 23Z" fill="#575B59"/><path d="M5 5 L10 4 L10.5 10 L6 10Z" fill="#9CCB8C"/>
<path d="M23.5 10 L32 9 L33 23 L24.5 23Z" fill="#6E7273"/><path d="M25 13 H31 M25 17 H31" stroke="#D8D9D9" stroke-width="1.2"/>
<path d="M1 33 C3 24.5 10 21.5 16.5 21.5 C23 21.5 30 24.5 32 33Z" fill="#3A455E"/>
<ellipse cx="16.5" cy="13.8" rx="6.1" ry="7.6" fill="#8A583F"/>
<path d="M10.2 11.5 C10.5 5.5 13.5 4 16.8 4 C20.5 4 23 6 23 11 C20.5 8.3 13.5 8.5 10.2 11.5Z" fill="#2B2421"/>
<path d="M14.5 16.6 Q18 20.2 21.2 16.4 Q18 18 14.5 16.6Z" fill="#F3ECE8" stroke="#F3ECE8" stroke-width="0.8"/></g></g></svg>
<div class="t" style="left:1284.80px;top:895.40px;font-size:21.1px;color:#17191C;">John S</div>
<div class="a" style="left:1448.3px;top:891.4000000000001px;width:131.60000000000014px;height:28.9px;background:#D4F4DC;border-radius:15px"></div>
<svg class="a" style="left:1453px;top:896.0px;" width="20" height="20" viewBox="0 0 20 20"><circle cx="10" cy="10" r="10" fill="#40D06A"/><path d="M5.2 10 H14.4 M10.7 6.3 L14.4 10 L10.7 13.7" fill="none" stroke="#fff" stroke-width="2" stroke-linecap="round" stroke-linejoin="round"/></svg>
<div class="t" style="left:1485.40px;top:895.70px;font-size:20.6px;color:#0E4622;letter-spacing:0.495px;-webkit-text-stroke:0.3px #0E4622;">Strategy</div>
<svg class="a" style="left:1632px;top:895.8000000000001px;" width="21" height="21" viewBox="0 0 21 21"><circle cx="10.5" cy="10.5" r="9.2" fill="none" stroke="#E8770E" stroke-width="2.4"/></svg>
<div class="t" style="left:1660.40px;top:895.40px;font-size:22.2px;color:#17191C;letter-spacing:0.039px;">In progress</div>
<div class="a" style="left:111px;top:934px;width:1713px;height:2px;background:#E7E9EB;background:linear-gradient(90deg,rgba(231,233,235,0),#E7E9EB 12px);"></div>
<svg class="a" style="left:159.5px;top:949.8px;" width="13" height="13" viewBox="0 0 13 13"><path d="M6.5 1v11M1 6.5h11" stroke="#6D7278" stroke-width="1.8" stroke-linecap="round"/></svg>
<div class="t" style="left:183.30px;top:946.30px;font-size:19.5px;color:#6D7278;letter-spacing:0.007px;">Add task</div>
<div class="t" style="left:874.00px;top:947.30px;font-size:18.7px;color:#17191C;letter-spacing:0.122px;">Mon Feb 22 -...</div>
<svg class="a" style="left:1058px;top:948.8px;" width="13.68" height="13.68" viewBox="0 0 19 19"><path d="M0 1.6 Q0 0.2 1.6 0.3 C4.5 -0.2 7 0.3 9.5 1.2 C12 2.1 14.5 2 17.3 1.1 Q19 0.7 19 2.4 L19 12.2 Q19 13.6 17.5 13.9 C14.5 14.7 12 14.4 9.5 13.4 C7.2 12.6 4.8 12.4 2.6 13 L2.6 17.4 Q2.6 18.7 1.3 18.7 Q0 18.7 0 17.4Z" fill="#E5474D"/></svg>
<div class="t" style="left:1079.00px;top:947.30px;font-size:18.7px;color:#17191C;">3</div>
<div class="t" style="left:1236.70px;top:947.30px;font-size:18.7px;color:#17191C">1<span style="color:#6D7278"> assignee</span></div>
<div class="t" style="left:1447.70px;top:947.30px;font-size:18.7px;color:#17191C">1<span style="color:#6D7278"> stage</span></div>
<div class="t" style="left:1628.70px;top:947.30px;font-size:18.7px;color:#17191C">1<span style="color:#6D7278"> status</span></div>
<div class="a" style="left:81px;top:977px;width:32px;height:1px;background:#F2F3F5"></div>
<div class="a" style="left:111px;top:976px;width:1713px;height:2px;background:#E7E9EB;background:linear-gradient(90deg,rgba(231,233,235,0),#E7E9EB 12px);"></div>
<div class="a" style="left:111px;top:978px;width:1713px;height:58.5px;background:linear-gradient(90deg,rgba(249,250,251,0) 0px,#F9FAFB 21px);box-shadow:inset 0 8px 8px -8px rgba(0,0,0,0.06)"></div>
<svg class="a" style="left:130.9px;top:1004.2px;" width="9.2" height="6" viewBox="0 0 9.2 6"><path d="M0.3 0.3 H8.9 L4.6 5.8Z" fill="#777C82"/></svg>
<div class="a" style="left:156.3px;top:991.9px;width:113.40000000000003px;height:29.5px;background:#F4ECD8;border-radius:15px"></div>
<svg class="a" style="left:160.7px;top:996.6px;" width="20" height="20" viewBox="0 0 20 20"><circle cx="10" cy="10" r="10" fill="#E1B33B"/><path d="M5.2 10 H14.4 M10.7 6.3 L14.4 10 L10.7 13.7" fill="none" stroke="#fff" stroke-width="2" stroke-linecap="round" stroke-linejoin="round"/></svg>
<div class="t" style="left:193.30px;top:997.20px;font-size:20.6px;color:#3D2D05;letter-spacing:0.120px;-webkit-text-stroke:0.3px #3D2D05;">Assets</div>
<div class="t" style="left:291.00px;top:998.90px;font-size:16px;color:#6D7278;">3</div>
<div class="a" style="left:111px;top:1035px;width:1713px;height:2px;background:#E7E9EB;background:linear-gradient(90deg,rgba(231,233,235,0),#E7E9EB 12px);"></div>
<svg class="a" style="left:132.5px;top:1060.3px;" width="7" height="13" viewBox="0 0 7 13"><path d="M0.9 3.4 L4.6 0.9 V12.4" fill="none" stroke="#8E9399" stroke-width="1.6" stroke-linejoin="round"/></svg>
<svg class="a" style="left:157px;top:1058.5px;" width="18" height="18" viewBox="0 0 18 18"><circle cx="9" cy="9" r="7.9" fill="none" stroke="#8E9398" stroke-width="2"/></svg>
<div class="t" style="left:184.50px;top:1055.30px;font-size:22.7px;color:#17191C;">IKEA - Marketing Campaign</div>
<div class="t" style="left:873.50px;top:1056.30px;font-size:21.8px;color:#17191C;letter-spacing:0.177px;">Thu Feb 25</div>
<svg class="a" style="left:1059px;top:1057.6px;" width="19.0" height="19.0" viewBox="0 0 19 19"><path d="M0 1.6 Q0 0.2 1.6 0.3 C4.5 -0.2 7 0.3 9.5 1.2 C12 2.1 14.5 2 17.3 1.1 Q19 0.7 19 2.4 L19 12.2 Q19 13.6 17.5 13.9 C14.5 14.7 12 14.4 9.5 13.4 C7.2 12.6 4.8 12.4 2.6 13 L2.6 17.4 Q2.6 18.7 1.3 18.7 Q0 18.7 0 17.4Z" fill="#E5474D"/></svg>
<div class="t" style="left:1091.70px;top:1056.30px;font-size:22px;color:#17191C;letter-spacing:1.197px;">High</div>
<svg class="a" style="left:1237.5px;top:1050.0px;" width="33" height="33" viewBox="0 0 33 33"><defs><clipPath id="c223"><circle cx="16.5" cy="16.5" r="16.5"/></clipPath><filter id="fc223" x="-5%" y="-5%" width="110%" height="110%"><feGaussianBlur stdDeviation="0.45"/></filter></defs><g clip-path="url(#c223)"><g filter="url(#fc223)"><rect width="33" height="33" fill="#83A6A6"/><rect x="0" y="10" width="33" height="10" fill="#78A0A2"/>
<path d="M8.5 30 C7.5 20 8 6.5 16.5 5 C24.5 4.5 26 14 25.5 24 C25.3 28 24.5 31 23.5 33 L10 33Z" fill="#3B2723"/>
<ellipse cx="15.6" cy="14.8" rx="5" ry="6.6" fill="#E7BDA7"/>
<path d="M10.5 13 C11 8.5 13.5 7 16 7 C19 7 20.5 9 21 12 C18.5 10 14 10.5 10.5 13Z" fill="#3B2723"/>
<path d="M2.5 33 C4.5 26 9 24.3 13 24.3 L19 24.3 C19.8 27 20 30 20 33Z" fill="#EFE7DD"/><path d="M12.5 24.3 L18.5 24.3 L16.3 31Z" fill="#E4B195"/></g></g></svg>
<div class="t" style="left:1284.80px;top:1056.30px;font-size:21.1px;color:#17191C;">Jess M</div>
<div class="a" style="left:1448.3px;top:1052.3px;width:113.80000000000018px;height:28.9px;background:#F4ECD8;border-radius:15px"></div>
<svg class="a" style="left:1453px;top:1056.8999999999999px;" width="20" height="20" viewBox="0 0 20 20"><circle cx="10" cy="10" r="10" fill="#E1B33B"/><path d="M5.2 10 H14.4 M10.7 6.3 L14.4 10 L10.7 13.7" fill="none" stroke="#fff" stroke-width="2" stroke-linecap="round" stroke-linejoin="round"/></svg>
<div class="t" style="left:1485.40px;top:1056.60px;font-size:20.6px;color:#3D2D05;letter-spacing:0.120px;-webkit-text-stroke:0.3px #3D2D05;">Assets</div>
<svg class="a" style="left:1632px;top:1056.6999999999998px;" width="21" height="21" viewBox="0 0 21 21"><circle cx="10.5" cy="10.5" r="9.2" fill="none" stroke="#E8770E" stroke-width="2.4"/></svg>
<div class="t" style="left:1660.40px;top:1056.30px;font-size:22.2px;color:#17191C;letter-spacing:0.039px;">In progress</div>
<div class="a" style="left:111px;top:1095px;width:1713px;height:2px;background:#E7E9EB;background:linear-gradient(90deg,rgba(231,233,235,0),#E7E9EB 12px);"></div>
<svg class="a" style="left:132.5px;top:1120.5px;" width="7" height="13" viewBox="0 0 7 13"><path d="M0.9 3.4 L4.6 0.9 V12.4" fill="none" stroke="#8E9399" stroke-width="1.6" stroke-linejoin="round"/></svg>
<svg class="a" style="left:157px;top:1118.7px;" width="18" height="18" viewBox="0 0 18 18"><circle cx="9" cy="9" r="7.9" fill="none" stroke="#8E9398" stroke-width="2"/></svg>
<div class="t" style="left:184.50px;top:1115.50px;font-size:22.7px;color:#17191C;">Singer - Marketing Campaign</div>
<div class="t" style="left:873.50px;top:1116.50px;font-size:21.8px;color:#17191C;letter-spacing:0.177px;">Thu Feb 25</div>
<svg class="a" style="left:1059px;top:1117.8px;" width="19.0" height="19.0" viewBox="0 0 19 19"><path d="M0 1.6 Q0 0.2 1.6 0.3 C4.5 -0.2 7 0.3 9.5 1.2 C12 2.1 14.5 2 17.3 1.1 Q19 0.7 19 2.4 L19 12.2 Q19 13.6 17.5 13.9 C14.5 14.7 12 14.4 9.5 13.4 C7.2 12.6 4.8 12.4 2.6 13 L2.6 17.4 Q2.6 18.7 1.3 18.7 Q0 18.7 0 17.4Z" fill="#E5474D"/></svg>
<div class="t" style="left:1091.70px;top:1116.50px;font-size:22px;color:#17191C;letter-spacing:1.197px;">High</div>
<svg class="a" style="left:1237.5px;top:1110.2px;" width="33" height="33" viewBox="0 0 33 33"><defs><clipPath id="c237"><circle cx="16.5" cy="16.5" r="16.5"/></clipPath><filter id="fc237" x="-5%" y="-5%" width="110%" height="110%"><feGaussianBlur stdDeviation="0.45"/></filter></defs><g clip-path="url(#c237)"><g filter="url(#fc237)"><rect width="33" height="33" fill="#83A6A6"/><rect x="0" y="10" width="33" height="10" fill="#78A0A2"/>
<path d="M8.5 30 C7.5 20 8 6.5 16.5 5 C24.5 4.5 26 14 25.5 24 C25.3 28 24.5 31 23.5 33 L10 33Z" fill="#3B2723"/>
<ellipse cx="15.6" cy="14.8" rx="5" ry="6.6" fill="#E7BDA7"/>
<path d="M10.5 13 C11 8.5 13.5 7 16 7 C19 7 20.5 9 21 12 C18.5 10 14 10.5 10.5 13Z" fill="#3B2723"/>
<path d="M2.5 33 C4.5 26 9 24.3 13 24.3 L19 24.3 C19.8 27 20 30 20 33Z" fill="#EFE7DD"/><path d="M12.5 24.3 L18.5 24.3 L16.3 31Z" fill="#E4B195"/></g></g></svg>
<div class="t" style="left:1284.80px;top:1116.50px;font-size:21.1px;color:#17191C;">Jess M</div>
<div class="a" style="left:1448.3px;top:1112.5px;width:113.80000000000018px;height:28.9px;background:#F4ECD8;border-radius:15px"></div>
<svg class="a" style="left:1453px;top:1117.1px;" width="20" height="20" viewBox="0 0 20 20"><circle cx="10" cy="10" r="10" fill="#E1B33B"/><path d="M5.2 10 H14.4 M10.7 6.3 L14.4 10 L10.7 13.7" fill="none" stroke="#fff" stroke-width="2" stroke-linecap="round" stroke-linejoin="round"/></svg>
<div class="t" style="left:1485.40px;top:1116.80px;font-size:20.6px;color:#3D2D05;letter-spacing:0.120px;-webkit-text-stroke:0.3px #3D2D05;">Assets</div>
<svg class="a" style="left:1632px;top:1116.8999999999999px;" width="21" height="21" viewBox="0 0 21 21"><circle cx="10.5" cy="10.5" r="9.2" fill="none" stroke="#E8770E" stroke-width="2.4"/></svg>
<div class="t" style="left:1660.40px;top:1116.50px;font-size:22.2px;color:#17191C;letter-spacing:0.039px;">In progress</div>
<div class="a" style="left:111px;top:1156px;width:1713px;height:2px;background:#E7E9EB;background:linear-gradient(90deg,rgba(231,233,235,0),#E7E9EB 12px);"></div>
<svg class="a" style="left:132.5px;top:1181.1000000000001px;" width="7" height="13" viewBox="0 0 7 13"><path d="M0.9 3.4 L4.6 0.9 V12.4" fill="none" stroke="#8E9399" stroke-width="1.6" stroke-linejoin="round"/></svg>
<svg class="a" style="left:157px;top:1179.3000000000002px;" width="18" height="18" viewBox="0 0 18 18"><circle cx="9" cy="9" r="7.9" fill="none" stroke="#8E9398" stroke-width="2"/></svg>
<div class="t" style="left:184.50px;top:1174.90px;font-size:22.7px;color:#17191C;">Hershey - Marketing Campaign</div>
<div class="t" style="left:873.50px;top:1175.90px;font-size:21.8px;color:#17191C;letter-spacing:0.300px;">Fri Feb 26</div>
<svg class="a" style="left:1059px;top:1178.4px;" width="19.0" height="19.0" viewBox="0 0 19 19"><path d="M0 1.6 Q0 0.2 1.6 0.3 C4.5 -0.2 7 0.3 9.5 1.2 C12 2.1 14.5 2 17.3 1.1 Q19 0.7 19 2.4 L19 12.2 Q19 13.6 17.5 13.9 C14.5 14.7 12 14.4 9.5 13.4 C7.2 12.6 4.8 12.4 2.6 13 L2.6 17.4 Q2.6 18.7 1.3 18.7 Q0 18.7 0 17.4Z" fill="#E5474D"/></svg>
<div class="t" style="left:1091.70px;top:1175.90px;font-size:22px;color:#17191C;letter-spacing:1.197px;">High</div>
<svg class="a" style="left:1237.5px;top:1170.8000000000002px;" width="33" height="33" viewBox="0 0 33 33"><defs><clipPath id="c251"><circle cx="16.5" cy="16.5" r="16.5"/></clipPath><filter id="fc251" x="-5%" y="-5%" width="110%" height="110%"><feGaussianBlur stdDeviation="0.45"/></filter></defs><g clip-path="url(#c251)"><g filter="url(#fc251)"><rect width="33" height="33" fill="#DADBDF"/>
<path d="M0 0 H33 V21 H0Z" fill="#737C7C"/><path d="M20 0 H33 V21 H24Z" fill="#8D9392"/><rect x="14" y="0" width="7" height="8" fill="#D9DDE2"/>
<path d="M7 31 C6 20 7.5 8 16.5 6.5 C25 6 27.5 13 26.8 21 C26.5 26 25.5 30 24 33 L9 33Z" fill="#A8653D"/>
<ellipse cx="18" cy="16.8" rx="5.3" ry="6.6" fill="#E3AC93"/>
<path d="M11.8 15 C12 9.5 15 8.2 18.5 8.2 C22 8.3 24 11 24 15 C22 12.5 16.5 11.8 11.8 15Z" fill="#A35F38"/>
<ellipse cx="18.6" cy="20.6" rx="2.2" ry="0.9" fill="#C96E6E"/>
<path d="M14 33 C14.5 28.5 16.5 27.3 18.5 27.3 C20.5 27.3 21.8 29 22 33Z" fill="#F5ECEA"/></g></g></svg>
<div class="t" style="left:1284.80px;top:1175.90px;font-size:21.1px;color:#17191C;">Sarah L</div>
<div class="a" style="left:1448.3px;top:1173.1000000000001px;width:113.80000000000018px;height:28.9px;background:#F4ECD8;border-radius:15px"></div>
<svg class="a" style="left:1453px;top:1177.7px;" width="20" height="20" viewBox="0 0 20 20"><circle cx="10" cy="10" r="10" fill="#E1B33B"/><path d="M5.2 10 H14.4 M10.7 6.3 L14.4 10 L10.7 13.7" fill="none" stroke="#fff" stroke-width="2" stroke-linecap="round" stroke-linejoin="round"/></svg>
<div class="t" style="left:1485.40px;top:1176.20px;font-size:20.6px;color:#3D2D05;letter-spacing:0.120px;-webkit-text-stroke:0.3px #3D2D05;">Assets</div>
<svg class="a" style="left:1632px;top:1177.5px;" width="21" height="21" viewBox="0 0 21 21"><circle cx="10.5" cy="10.5" r="9.2" fill="none" stroke="#E8770E" stroke-width="2.4"/></svg>
<div class="t" style="left:1660.40px;top:1175.90px;font-size:22.2px;color:#17191C;letter-spacing:0.039px;">In progress</div>
<div class="a" style="left:111px;top:1216px;width:1713px;height:2px;background:#E7E9EB;background:linear-gradient(90deg,rgba(231,233,235,0),#E7E9EB 12px);"></div>
<div class="a" style="left:81px;top:415px;width:1743px;height:2px;background:#E7E9EB;"></div>
</body></html>
